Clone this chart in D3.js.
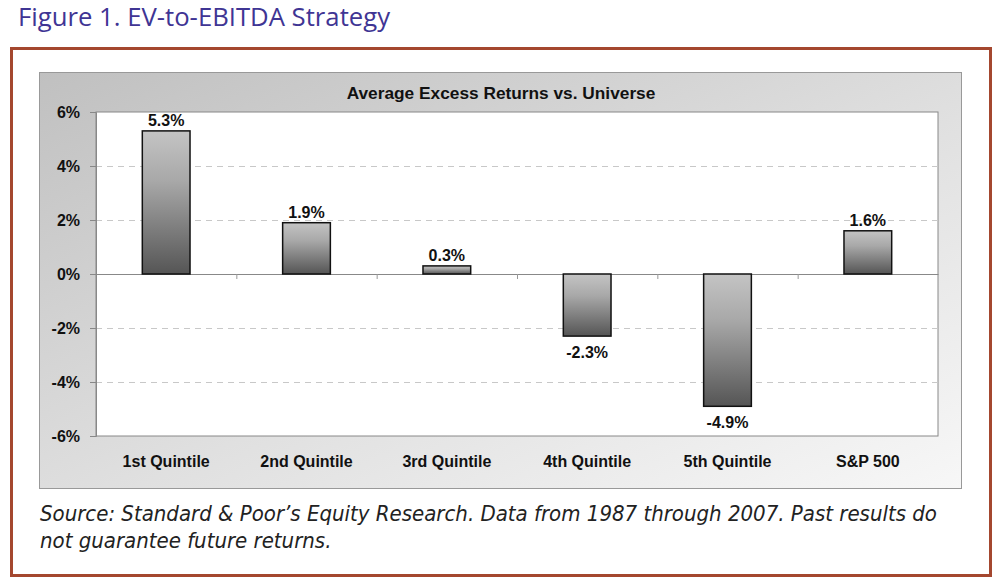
<!DOCTYPE html>
<html><head><meta charset="utf-8">
<script src="https://cdn.jsdelivr.net/npm/d3@7"></script>
<style>body{margin:0;background:#fff}</style>
</head><body>
<svg id="c" width="1000" height="587"></svg>
<script>
const categories = ["1st Quintile","2nd Quintile","3rd Quintile","4th Quintile","5th Quintile","S&P 500"];
const values = [5.3, 1.9, 0.3, -2.3, -4.9, 1.6];
const yTicks = [-6,-4,-2,0,2,4,6];
const figTitle = "Figure 1. EV-to-EBITDA Strategy";
const chartTitle = "Average Excess Returns vs. Universe";
const sourceLines = ["Source: Standard & Poor’s Equity Research. Data from 1987 through 2007. Past results do","not guarantee future returns."];

const svg = d3.select("#c");
const defs = svg.append("defs");
const bg = defs.append("linearGradient").attr("id","bg").attr("x1","0").attr("y1","0").attr("x2","1").attr("y2","1");
bg.append("stop").attr("offset","0").attr("stop-color","#c0c0c0");
bg.append("stop").attr("offset","0.55").attr("stop-color","#e0e0e0");
bg.append("stop").attr("offset","1").attr("stop-color","#f7f7f7");
const bar = defs.append("linearGradient").attr("id","bar").attr("x1","0").attr("y1","0").attr("x2","0").attr("y2","1");
bar.append("stop").attr("offset","0").attr("stop-color","#c4c4c4");
bar.append("stop").attr("offset","0.35").attr("stop-color","#a8a8a8");
bar.append("stop").attr("offset","1").attr("stop-color","#555555");

svg.append("text").attr("x",18).attr("y",26).attr("font-family","Open Sans, sans-serif")
  .attr("font-size",25.7).attr("fill","#3f3594").text(figTitle);

svg.append("rect").attr("x",11.5).attr("y",48.5).attr("width",979).attr("height",527)
  .attr("fill","#fff").attr("stroke","#a4472f").attr("stroke-width",3);

svg.append("rect").attr("x",39.5).attr("y",72.5).attr("width",922).attr("height",416)
  .attr("fill","url(#bg)").attr("stroke","#999").attr("stroke-width",1);

const L=96, R=938, T=112, B=436;
const x = d3.scaleBand().domain(categories).range([L,R]).paddingInner(0).paddingOuter(0);
const y = d3.scaleLinear().domain([-6,6]).range([B,T]);

svg.append("rect").attr("x",L).attr("y",T).attr("width",R-L).attr("height",B-T)
  .attr("fill","#fff").attr("stroke","#888").attr("stroke-width",1);

// grid
svg.append("g").selectAll("line").data(yTicks.filter(d=>d!==0 && Math.abs(d)!==6)).join("line")
  .attr("x1",L).attr("x2",R).attr("y1",d=>y(d)+0.5).attr("y2",d=>y(d)+0.5)
  .attr("stroke","#c8c8c8").attr("stroke-dasharray","6,5");

// y axis
const yAxis = d3.axisLeft(y).tickValues(yTicks).tickFormat(d=>d+"%").tickSize(6).tickPadding(10);
const ga = svg.append("g").attr("transform",`translate(${L},0)`).call(yAxis);
ga.select(".domain").attr("stroke","#888");
ga.selectAll(".tick line").attr("stroke","#888");
ga.selectAll(".tick text").attr("font-family","Liberation Sans, Arial, sans-serif").attr("font-weight","bold")
  .attr("font-size",16).attr("fill","#111");

// zero axis with category ticks
const xAxis = d3.axisBottom(x).tickSize(0).tickFormat("");
const gx = svg.append("g").attr("transform",`translate(0,${y(0)})`).call(xAxis);
gx.select(".domain").attr("stroke","#888");
gx.append("g").selectAll("line").data(categories.slice(1)).join("line")
  .attr("x1",d=>x(d)+0.5).attr("x2",d=>x(d)+0.5).attr("y1",0).attr("y2",5).attr("stroke","#999");

const bw = x.bandwidth()*0.34;
svg.append("g").selectAll("rect").data(values).join("rect")
  .attr("x",(d,i)=>x(categories[i])+x.bandwidth()/2-bw/2)
  .attr("y",d=>y(Math.max(0,d)))
  .attr("width",bw)
  .attr("height",d=>Math.abs(y(d)-y(0)))
  .attr("fill","url(#bar)").attr("stroke","#111").attr("stroke-width",1.5);

svg.append("g").selectAll("text").data(values).join("text")
  .attr("x",(d,i)=>x(categories[i])+x.bandwidth()/2)
  .attr("y",d=>d>=0? y(d)-5 : y(d)+21.5)
  .attr("text-anchor","middle").attr("font-family","Liberation Sans, Arial, sans-serif")
  .attr("font-weight","bold").attr("font-size",16).attr("fill","#111")
  .text(d=>d.toFixed(1)+"%");

svg.append("g").selectAll("text").data(categories).join("text")
  .attr("x",d=>x(d)+x.bandwidth()/2).attr("y",467)
  .attr("text-anchor","middle").attr("font-family","Liberation Sans, Arial, sans-serif")
  .attr("font-weight","bold").attr("font-size",16).attr("fill","#111").text(d=>d);

svg.append("text").attr("x",501).attr("y",99).attr("text-anchor","middle")
  .attr("font-family","Liberation Sans, Arial, sans-serif").attr("font-weight","bold")
  .attr("font-size",17.3).attr("fill","#111").text(chartTitle);

svg.append("g").selectAll("text").data(sourceLines).join("text")
  .attr("x",40).attr("y",(d,i)=>521+i*27)
  .attr("font-family","DejaVu Sans Condensed, DejaVu Sans, sans-serif").attr("font-style","italic")
  .attr("font-stretch","condensed")
  .attr("font-size",22).attr("fill","#222")
  .text(d=>d);
</script>
</body></html>
